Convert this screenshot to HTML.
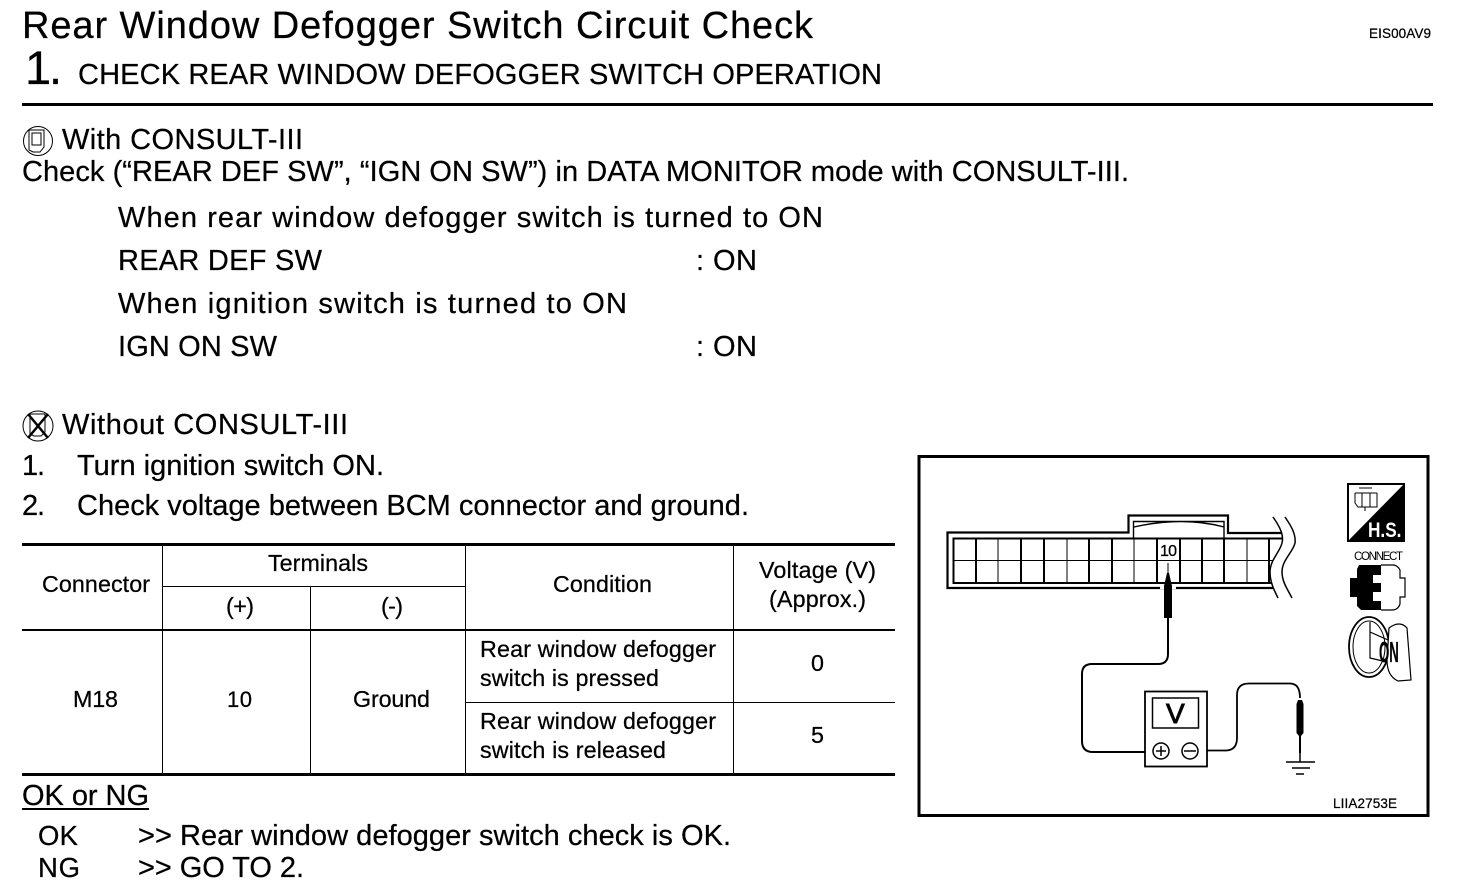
<!DOCTYPE html>
<html><head><meta charset="utf-8"><style>
html,body{margin:0;padding:0;background:#fff}
svg{display:block}
text{font-family:"Liberation Sans",sans-serif;fill:#000;stroke:#000;stroke-width:.25px}
.b{font-size:29px}.t{font-size:23.3px}
.w{fill:none;stroke:#000;stroke-width:2}
</style></head><body>
<svg width="1472" height="894" viewBox="0 0 1472 894" xmlns="http://www.w3.org/2000/svg">
<rect width="1472" height="894" fill="#fff"/>
<text x="22" y="38" font-size="38" textLength="791">Rear Window Defogger Switch Circuit Check</text>
<text x="1369" y="38" font-size="13.5" textLength="62">EIS00AV9</text>
<text x="25" y="84" font-size="47" textLength="37">1.</text>
<text x="78" y="84" class="b" textLength="804">CHECK REAR WINDOW DEFOGGER SWITCH OPERATION</text>
<rect x="22" y="103" width="1411" height="3"/>

<g fill="none" stroke="#000" stroke-width="1">
<circle cx="38" cy="141" r="14.500"/><path d="M29 130h15v17l-4 5h-7l-4-2zM32 133h9v12h-9z"/>
<circle cx="38" cy="426" r="15"/><path d="M30 414h15v18l-4 4h-7l-4-2z"/>
</g>
<path d="M28 414L48 438M48 414L28 438" stroke="#000" stroke-width="2.500"/>

<text x="62" y="149" class="b" textLength="241">With CONSULT-III</text>
<text x="22" y="181" class="b" textLength="1107">Check (“REAR DEF SW”, “IGN ON SW”) in DATA MONITOR mode with CONSULT-III.</text>
<text x="118" y="227" class="b" textLength="705">When rear window defogger switch is turned to ON</text>
<text x="118" y="270" class="b" textLength="204">REAR DEF SW</text>
<text x="696" y="270" class="b" textLength="61">: ON</text>
<text x="118" y="313" class="b" textLength="509">When ignition switch is turned to ON</text>
<text x="118" y="356" class="b" textLength="159">IGN ON SW</text>
<text x="696" y="356" class="b" textLength="61">: ON</text>
<text x="62" y="434" class="b" textLength="286">Without CONSULT-III</text>
<text x="22" y="475" class="b" textLength="23">1.</text>
<text x="77" y="475" class="b" textLength="307">Turn ignition switch ON.</text>
<text x="22" y="515" class="b" textLength="23">2.</text>
<text x="77" y="515" class="b" textLength="672">Check voltage between BCM connector and ground.</text>

<g fill="#000" shape-rendering="crispEdges">
<rect x="22" y="543" width="873" height="3"/>
<rect x="22" y="773" width="873" height="3"/>
<rect x="22" y="629" width="873" height="2"/>
<rect x="162" y="586" width="303" height="1"/>
<rect x="465" y="702" width="430" height="1"/>
<rect x="162" y="543" width="1" height="232"/>
<rect x="310" y="586" width="1" height="188"/>
<rect x="465" y="543" width="1" height="232"/>
<rect x="733" y="543" width="1" height="232"/>
</g>
<text x="42" y="592" class="t" textLength="108">Connector</text>
<text x="268" y="571" class="t" textLength="100">Terminals</text>
<text x="226" y="614" class="t" textLength="28">(+)</text>
<text x="381" y="614" class="t" textLength="22">(-)</text>
<text x="553" y="592" class="t" textLength="99">Condition</text>
<text x="759" y="578" class="t" textLength="117">Voltage (V)</text>
<text x="769" y="607" class="t" textLength="97">(Approx.)</text>
<text x="73" y="707" class="t" textLength="45">M18</text>
<text x="227" y="707" class="t" font-size="22" style="font-size:22px" textLength="25">10</text>
<text x="353" y="707" class="t" textLength="77">Ground</text>
<text x="480" y="657" class="t" textLength="236">Rear window defogger</text>
<text x="480" y="686" class="t" textLength="179">switch is pressed</text>
<text x="811" y="671" class="t" textLength="13">0</text>
<text x="480" y="729" class="t" textLength="236">Rear window defogger</text>
<text x="480" y="758" class="t" textLength="186">switch is released</text>
<text x="811" y="743" class="t" textLength="13">5</text>

<text x="22" y="805" class="b" textLength="127">OK or NG</text>
<rect x="22" y="808" width="127" height="2"/>
<text x="38" y="845" style="font-size:27.500px" textLength="40">OK</text>
<text x="138" y="845" class="b" textLength="593">&gt;&gt; Rear window defogger switch check is OK.</text>
<text x="38" y="877" style="font-size:27.500px" textLength="42">NG</text>
<text x="138" y="877" class="b" textLength="166">&gt;&gt; GO TO 2.</text>

<rect x="919" y="456.500" width="509" height="359" fill="none" stroke="#000" stroke-width="3"/>

<!-- connector -->
<path d="M1282 533H1228V515.500H1128.500V532.500H947.500V588H1280" fill="none" stroke="#000" stroke-width="2.200"/>
<path d="M1133.500 538V521.500H1224V538M1134 527Q1183 516 1224 527" fill="none" stroke="#000" stroke-width="1.400"/>
<path d="M1286 538.500H953.500V583H1276" fill="none" stroke="#000" stroke-width="2"/>
<path d="M953 560.500H1274" stroke="#000" stroke-width="1"/>
<g stroke="#000" shape-rendering="crispEdges">
<g stroke-width="2"><path d="M976 538V583M1021 538V583M1044 538V583M1089 538V583M1112 538V583M1157 538V583M1180 538V583M1202 538V583M1224 538V583M1269 538V583"/></g>
<g stroke-width="1"><path d="M998 538V583M1067 538V583M1134 538V583M1247 538V583"/></g>
</g>
<rect x="1159" y="542" width="20" height="18" fill="#fff"/>
<text x="1160" y="556" style="font-size:16px;stroke-width:.3px" textLength="17">10</text>
<path d="M1273 517C1280 527 1284 535 1282 543C1280 552 1270 560 1270 572C1270 582 1274 590 1278 598H1310V517Z" fill="#fff"/>
<path d="M1273 517C1280 527 1284 535 1282 543C1280 552 1270 560 1270 572C1270 582 1274 590 1278 598M1285 517C1292 527 1296 535 1295 543C1293 552 1282 560 1282 572C1282 582 1288 590 1292 598" fill="none" stroke="#000" stroke-width="1.500"/>

<!-- probe 1 and wires -->
<path d="M1168 563V580" stroke="#000" stroke-width="1"/>
<rect x="1160" y="584" width="16" height="5" fill="#fff"/>
<path d="M1167 573H1169L1172 586V618H1164V586Z"/>
<path d="M1168 618V654Q1168 664 1158 664H1092Q1082 664 1082 674V741Q1082 752 1093 752H1153" class="w"/>
<path d="M1198 750.500H1226Q1237 750 1237 738V695Q1237 683.500 1249 683.500H1290Q1300 683.500 1300 698" fill="none" stroke="#000" stroke-width="1.800"/>
<!-- meter -->
<rect x="1145" y="691.500" width="62" height="75" fill="#fff" stroke="#000" stroke-width="1.800"/>
<rect x="1152.500" y="698" width="46" height="30" fill="none" stroke="#000" stroke-width="1.500"/>
<text x="1166" y="723" style="font-size:28px;stroke-width:.9px" textLength="19">V</text>
<circle cx="1161" cy="751" r="8" fill="#fff" stroke="#000" stroke-width="1.500"/>
<circle cx="1190" cy="751" r="8" fill="#fff" stroke="#000" stroke-width="1.500"/>
<path d="M1156 751H1166M1161 746V756M1184 751H1196" stroke="#000" stroke-width="1.500"/>
<!-- probe 2 -->
<path d="M1298 700H1302L1303.500 704V733L1301 736V753H1299V736L1296.500 733V704Z"/>
<path d="M1300 750V762" stroke="#000" stroke-width="1.500"/>
<path d="M1286 762H1315M1292 768H1310M1296 774H1304" stroke="#000" stroke-width="1.500"/>
<text x="1333" y="808" style="font-size:13.500px" textLength="64">LIIA2753E</text>

<!-- HS icon -->
<rect x="1348" y="484" width="56" height="57" fill="#fff" stroke="#000" stroke-width="2"/>
<path d="M1404 484V541H1348Z"/>
<text transform="translate(1368,537) scale(.82,1)" style="font-size:21px;font-weight:bold;fill:#fff;stroke:none">H.S.</text>
<path d="M1355 493V503L1358 507H1377V493M1355 493H1377M1362 493V507M1370 493V507M1359 488H1372M1365 507V511" fill="none" stroke="#000" stroke-width="1"/>
<text x="1354" y="560" style="font-size:11.500px;stroke:none" textLength="49">CONNECT</text>
<!-- connector icon -->
<path d="M1359 565H1381V575H1373V583H1381V592H1373V601H1381V610H1361L1357 606V597H1350V578H1357V569Z"/>
<path d="M1381 565H1394Q1398 566 1400 570V578H1405V597H1400V604Q1398 610 1392 610H1381" fill="#fff" stroke="#000" stroke-width="1.200"/>
<!-- key icon -->
<ellipse cx="1369" cy="647" rx="20" ry="30" fill="none" stroke="#000" stroke-width="1.800"/>
<ellipse cx="1369" cy="647" rx="16" ry="26" fill="none" stroke="#000" stroke-width="1"/>
<path d="M1370 622V658L1387 662M1370 632L1388 640" fill="none" stroke="#000" stroke-width="1.200"/>
<path d="M1389 628Q1400 620 1407 628L1411 680L1398 681Q1387 676 1387 660Z" fill="#fff" stroke="#000" stroke-width="1.200"/>
<text transform="translate(1379,662) scale(.6,1.300)" style="font-size:22px;font-weight:bold">ON</text>
</svg>
</body></html>
